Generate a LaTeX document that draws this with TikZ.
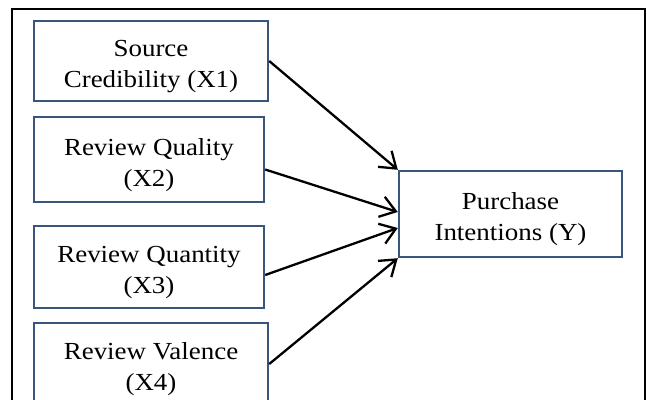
\documentclass[tikz,border=0pt]{standalone}
\usepackage{fontspec}
\setmainfont{Liberation Serif}[FakeStretch=1.1]
\usetikzlibrary{arrows.meta}
\definecolor{boxline}{RGB}{56,86,124}
\newcommand{\toppad}{\rule{0pt}{28pt}}
\tikzset{
  varbox/.style={draw=boxline,line width=2.4pt,align=center,inner sep=0pt,
    font=\fontsize{24.5}{31}\selectfont},
  link/.style={line width=2.3pt,-{Straight Barb[length=15pt,width=21pt,line width=2.3pt]}}
}
\begin{document}
\begin{tikzpicture}[x=1pt,y=-1pt]
        \clip (0,0) rectangle (647,399);
        %% Frame
        \draw[line width=2.5pt] (12,420) -- (12,9) -- (645,9) -- (645,420);
        %% Independent variables
        \node[varbox,minimum width=234pt,minimum height=80pt] (x1) at (151,61) {\toppad Source\\Credibility (X1)};
        \node[varbox,minimum width=230pt,minimum height=85pt] (x2) at (149,159.5) {\toppad Review Quality\\(X2)};
        \node[varbox,minimum width=230pt,minimum height=82pt] (x3) at (149,267) {\toppad Review Quantity\\(X3)};
        \node[varbox,minimum width=234pt,minimum height=82pt] (x4) at (151,364) {\toppad Review Valence\\(X4)};
        %% Dependent variable
        \node[varbox,minimum width=223pt,minimum height=86pt] (y) at (510.5,214) {\toppad Purchase\\Intentions (Y)};
        %% Paths
        \draw[link] (x1.east) -- (y.north west);
        \draw[link] ([yshift=-10pt]x2.east) -- ([yshift=2pt]y.west);
        \draw[link] ([yshift=-8pt]x3.east) -- ([yshift=-14pt]y.west);
        \draw[link] (x4.east) -- (y.south west);
\end{tikzpicture}
\end{document}
